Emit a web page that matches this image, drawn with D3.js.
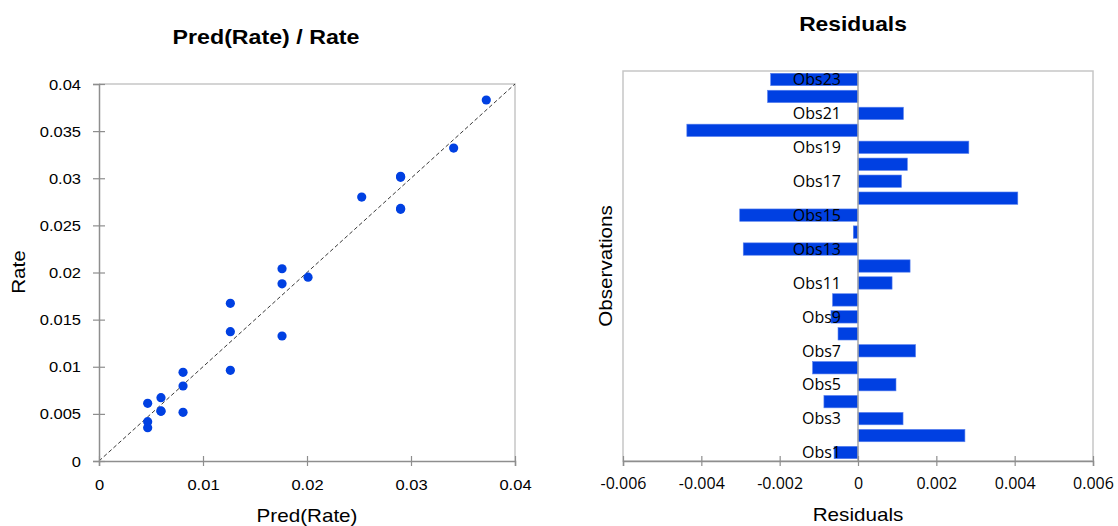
<!DOCTYPE html>
<html>
<head>
<meta charset="utf-8">
<script src="https://cdn.jsdelivr.net/npm/d3@7"></script>
<style>
  body { margin: 0; background: #fff; }
  svg { display: block; }
</style>
</head>
<body>
<svg id="chart" width="1118" height="526"></svg>
<script>
// Observations, observed rate and model prediction
const observations = ["Obs1","Obs2","Obs3","Obs4","Obs5","Obs6","Obs7","Obs8","Obs9","Obs10","Obs11","Obs12",
                      "Obs13","Obs14","Obs15","Obs16","Obs17","Obs18","Obs19","Obs20","Obs21","Obs22","Obs23"];
const predRate = [0.0201, 0.02526, 0.03724, 0.0341, 0.00596, 0.00468, 0.00468, 0.00468, 0.00596, 0.00596, 0.01263, 0.00808,
                  0.00808, 0.00808, 0.01263, 0.01263, 0.0176, 0.0290, 0.0176, 0.0176, 0.0290, 0.0290, 0.0290];
const rate     = [0.0195, 0.0280, 0.0383, 0.0332, 0.00672, 0.00354, 0.00612, 0.00417, 0.00527, 0.00531, 0.01372, 0.00941,
                  0.00516, 0.00796, 0.00962, 0.01673, 0.0188, 0.0302, 0.0204, 0.01326, 0.0301, 0.0268, 0.0267];
const residuals = [-0.00061, 0.00273, 0.00115, -0.00087, 0.00097, -0.00116, 0.00147, -0.00051, -0.00069, -0.00065, 0.00087, 0.00133,
                   -0.00293, -0.00012, -0.00302, 0.00408, 0.00111, 0.00126, 0.00283, -0.00437, 0.00116, -0.00231, -0.00223];

// Axis ticks and their labels
const rateTicks = [0, 0.005, 0.01, 0.015, 0.02, 0.025, 0.03, 0.035, 0.04];
const rateTickLabels = ["0", "0.005", "0.01", "0.015", "0.02", "0.025", "0.03", "0.035", "0.04"];
const predTicks = [0, 0.01, 0.02, 0.03, 0.04];
const predTickLabels = ["0", "0.01", "0.02", "0.03", "0.04"];
const residualTicks = [-0.006, -0.004, -0.002, 0, 0.002, 0.004, 0.006];
const residualTickLabels = ["-0.006", "-0.004", "-0.002", "0", "0.002", "0.004", "0.006"];
const shownObsLabels = ["Obs1","Obs3","Obs5","Obs7","Obs9","Obs11","Obs13","Obs15","Obs17","Obs19","Obs21","Obs23"];

const BLUE = "#0040e2";
const AXIS_GRAY = "#8e8e8e";
const FRAME_GRAY = "#c6c6c6";
const SANS = "'Liberation Sans', Arial, sans-serif";
const UI_SANS = "'Open Sans', 'Noto Sans', sans-serif";
const STRETCH = 1.18;

const svg = d3.select("#chart");

// Text drawn with a horizontally widened sans face
function wideText(parent, str, x, y, o) {
  return parent.append("text")
    .attr("transform", `translate(${x},${y}) rotate(${o.rotate || 0}) scale(${o.sx || STRETCH},1)`)
    .attr("text-anchor", o.anchor || "middle")
    .style("font-family", SANS)
    .style("font-size", o.size + "px")
    .style("font-weight", o.weight || "normal")
    .attr("fill", "#000")
    .text(str);
}

function styleAxis(g, crossing, vertical) {
  g.select(".domain").attr("stroke", AXIS_GRAY).attr("stroke-width", 1.5);
  g.selectAll(".tick line").attr("stroke", AXIS_GRAY).attr("stroke-width", 1.2);
  if (vertical) g.selectAll(".tick line").attr("x1", -crossing).attr("x2", crossing);
  else g.selectAll(".tick line").attr("y1", -crossing).attr("y2", crossing);
}

/* ---------------- Left: Pred(Rate) / Rate scatter ---------------- */
const L = { left: 99, right: 515, top: 84, bottom: 461 };
const xPred = d3.scaleLinear().domain([0, 0.04]).range([L.left, L.right]);
const yRate = d3.scaleLinear().domain([0, 0.04]).range([L.bottom, L.top]);

const left = svg.append("g");

// plot frame: top and right edges
left.append("path")
  .attr("d", `M${L.left},${L.top}H${L.right}V${L.bottom}`)
  .attr("fill", "none").attr("stroke", FRAME_GRAY).attr("stroke-width", 1.5);

// identity line
left.append("line")
  .attr("x1", xPred(0)).attr("y1", yRate(0))
  .attr("x2", xPred(0.04)).attr("y2", yRate(0.04))
  .attr("stroke", "#222").attr("stroke-width", 0.9)
  .attr("stroke-dasharray", "4,2.5");

const gxL = left.append("g")
  .attr("transform", `translate(0,${L.bottom})`)
  .call(d3.axisBottom(xPred).tickValues(predTicks).tickFormat((d, i) => predTickLabels[i]).tickSizeOuter(0).tickSize(5));
styleAxis(gxL, 5, false);
gxL.selectAll(".tick text")
  .attr("y", 29).attr("dy", 0)
  .attr("transform", `scale(${STRETCH},1)`)
  .style("font-family", SANS).style("font-size", "14px").attr("fill", "#000");

const gyL = left.append("g")
  .attr("transform", `translate(${L.left},0)`)
  .call(d3.axisLeft(yRate).tickValues(rateTicks).tickFormat((d, i) => rateTickLabels[i]).tickSizeOuter(0).tickSize(6));
styleAxis(gyL, 6, true);
gyL.selectAll(".tick text")
  .attr("x", -18 / STRETCH).attr("dy", "0.36em")
  .attr("transform", `scale(${STRETCH},1)`)
  .style("font-family", SANS).style("font-size", "14px").attr("fill", "#000");

// points
left.append("g").selectAll("circle")
  .data(observations)
  .join("circle")
  .attr("cx", (d, i) => xPred(predRate[i]))
  .attr("cy", (d, i) => yRate(rate[i]))
  .attr("r", 4.6)
  .attr("fill", BLUE);

wideText(left, "Pred(Rate) / Rate", 266, 44, { size: 20, weight: "bold", sx: 1.16 });
wideText(left, "Pred(Rate)", 307, 522, { size: 17.5 });
wideText(left, "Rate", 25, 272, { size: 17.5, rotate: -90 });

/* ---------------- Right: residuals bar chart ---------------- */
const R = { left: 623, right: 1093, top: 71, bottom: 461 };
const xRes = d3.scaleLinear().domain([-0.006, 0.006]).range([R.left, R.right]);
const yObs = d3.scaleBand().domain(observations.slice().reverse()).range([R.top, R.bottom])
  .paddingInner(0.27).paddingOuter(0.135);

const right = svg.append("g");

right.append("rect")
  .attr("x", R.left).attr("y", R.top)
  .attr("width", R.right - R.left).attr("height", R.bottom - R.top)
  .attr("fill", "none").attr("stroke", FRAME_GRAY).attr("stroke-width", 1.5);

right.append("g").selectAll("rect")
  .data(observations)
  .join("rect")
  .attr("x", (d, i) => xRes(Math.min(0, residuals[i])))
  .attr("y", d => yObs(d))
  .attr("width", (d, i) => Math.abs(xRes(residuals[i]) - xRes(0)))
  .attr("height", yObs.bandwidth())
  .attr("fill", BLUE)
  .attr("stroke", "#5b82ee").attr("stroke-width", 0.6);

// zero line
right.append("line")
  .attr("x1", xRes(0)).attr("x2", xRes(0))
  .attr("y1", R.top).attr("y2", R.bottom)
  .attr("stroke", "#a4a4a4").attr("stroke-width", 1.5);

// observation labels, drawn over the bars
right.append("g").selectAll("text")
  .data(shownObsLabels)
  .join("text")
  .attr("x", 841)
  .attr("y", d => yObs(d) + yObs.bandwidth() / 2)
  .attr("dy", "0.36em")
  .attr("text-anchor", "end")
  .style("font-family", UI_SANS).style("font-size", "16px")
  .attr("fill", "#000")
  .text(d => d);

const gxR = right.append("g")
  .attr("transform", `translate(0,${R.bottom})`)
  .call(d3.axisBottom(xRes).tickValues(residualTicks).tickFormat((d, i) => residualTickLabels[i]).tickSizeOuter(0).tickSize(5));
styleAxis(gxR, 5, false);
gxR.selectAll(".tick text")
  .attr("y", 28).attr("dy", 0)
  .style("font-family", UI_SANS).style("font-size", "16px").attr("fill", "#000");

wideText(right, "Residuals", 853, 31, { size: 20, weight: "bold", sx: 1.14 });
wideText(right, "Residuals", 858, 521, { size: 17.5 });
wideText(right, "Observations", 612, 266, { size: 17.5, rotate: -90 });
</script>
</body>
</html>
